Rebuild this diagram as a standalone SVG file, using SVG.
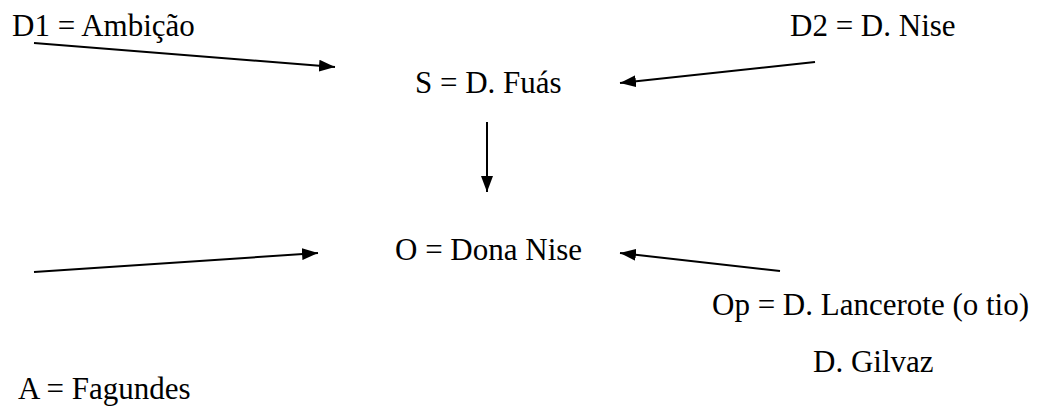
<svg xmlns="http://www.w3.org/2000/svg" width="1042" height="406" viewBox="0 0 1042 406">
<style>
.t{font-family:'Liberation Serif','Times New Roman','DejaVu Serif',serif;font-size:31px;fill:#000}
.c{stroke:#000;stroke-width:2;fill:none}
</style>
<defs>
<marker id="ah" markerWidth="16" markerHeight="12" refX="16" refY="6" orient="auto" markerUnits="userSpaceOnUse">
<path d="M0,0 L16,6 L0,12 Z" fill="#000"/>
</marker>
</defs>
<rect width="1042" height="406" fill="#fff"/>
<g id="connectors">
<line class="c" x1="34" y1="43" x2="335" y2="67" marker-end="url(#ah)"/>
<line class="c" x1="815" y1="62" x2="620" y2="83" marker-end="url(#ah)"/>
<line class="c" x1="487" y1="122" x2="487" y2="192" marker-end="url(#ah)"/>
<line class="c" x1="34" y1="272" x2="318" y2="253" marker-end="url(#ah)"/>
<line class="c" x1="780" y1="271" x2="620" y2="253" marker-end="url(#ah)"/>
</g>
<g id="D1"><text class="t" x="12" y="36">D1 = Ambição</text></g>
<g id="D2"><text class="t" x="790" y="36">D2 = D. Nise</text></g>
<g id="S"><text class="t" x="415" y="93">S = D. Fuás</text></g>
<g id="O"><text class="t" x="395" y="260">O = Dona Nise</text></g>
<g id="Op"><text class="t" x="712" y="315">Op = D. Lancerote (o tio)</text><text class="t" x="813" y="372">D. Gilvaz</text></g>
<g id="A"><text class="t" x="18" y="399">A = Fagundes</text></g>
</svg>
